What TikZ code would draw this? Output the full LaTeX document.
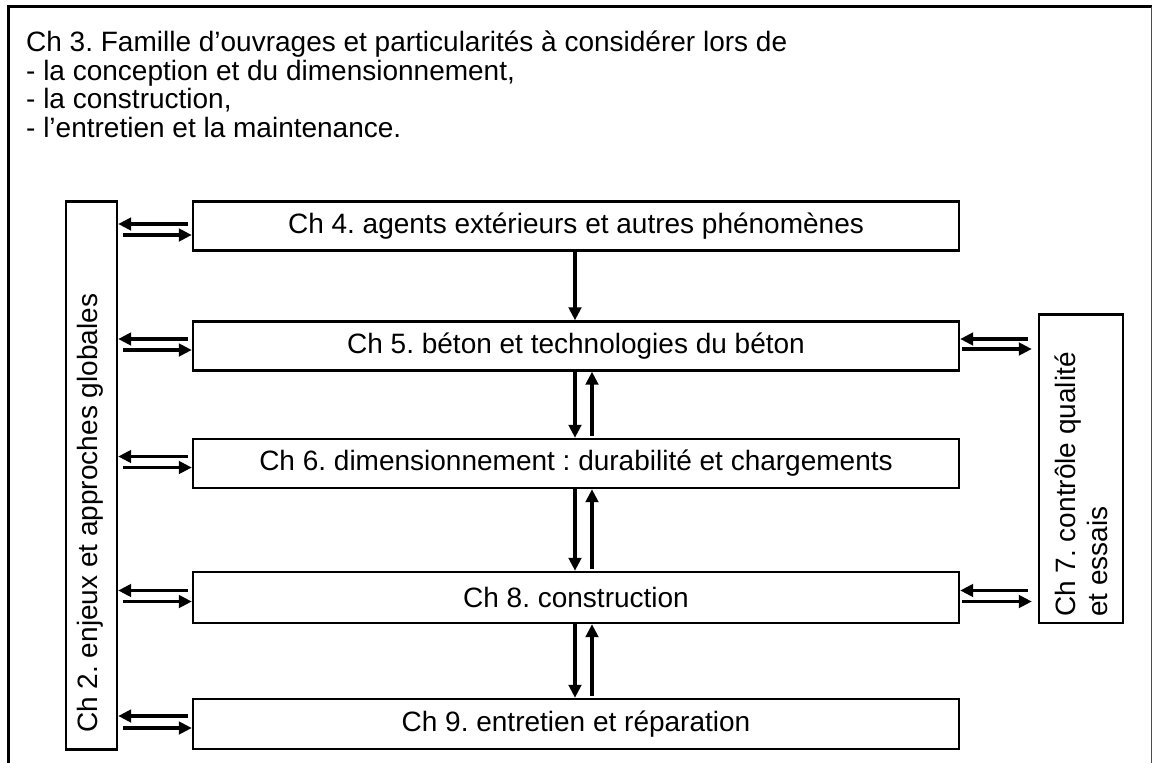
\documentclass[tikz,border=0pt]{standalone}
\usepackage{fontspec}
\setmainfont{Liberation Sans}
\usetikzlibrary{arrows.meta}
\newcommand{\chapFont}{\fontsize{28}{32.2}\selectfont\frenchspacing}
\newcommand{\titleFont}{\fontsize{28}{28.5}\selectfont\frenchspacing}

\begin{document}
\begin{tikzpicture}[x=1pt,y=-1pt]
  \tikzset{chapbox/.style={draw,line width=2.4pt,minimum width=766pt,minimum height=49pt,inner sep=0pt,font=\chapFont},
    sidebox/.style={draw,line width=2.4pt,inner sep=0pt},
    flow/.style={line width=3.2pt,-{Triangle[length=13pt,width=12.5pt]}}}
  \useasboundingbox (0,0) rectangle (1152,763);
  \draw[line width=3pt] (8.5,763) -- (8.5,6.5) -- (1152,6.5);
  \draw[line width=1pt,black!70] (1151.5,6.5) -- (1151.5,763);
  \node[anchor=north west,inner sep=0pt,align=left,font=\titleFont] (title) at (26,31)
    {Ch 3. Famille d’ouvrages et particularités à considérer lors de\\
     - la conception et du dimensionnement,\\
     - la construction,\\
     - l’entretien et la maintenance.};
  \node[sidebox,minimum width=51pt,minimum height=548pt] (ch2) at (91.5,475.5) {};
  \node[rotate=90,anchor=base west,inner sep=0pt,font=\chapFont] (ch2text) at (97,733)
    {Ch 2. enjeux et approches globales};
  \node[sidebox,minimum width=84pt,minimum height=308.5pt] (ch7) at (1081,468.8) {};
  \node[rotate=90,anchor=west,inner sep=0pt,align=left,font=\chapFont] (ch7text) at (1081,617)
    {Ch 7. contrôle qualité\\et essais};
  \node[chapbox] (ch4) at (576,226) {Ch 4. agents extérieurs et autres phénomènes};
  \node[chapbox] (ch5) at (576,346) {Ch 5. béton et technologies du béton};
  \node[chapbox] (ch6) at (576,463.5) {Ch 6. dimensionnement : durabilité et chargements};
  \node[chapbox,minimum height=51pt] (ch8) at (576,597.5) {Ch 8. construction};
  \node[chapbox,minimum height=50pt] (ch9) at (576,724) {Ch 9. entretien et réparation};
  \draw[flow,shorten <=4pt] ([yshift=2pt]ch4.west) -- ([yshift=2pt]ch4.west -| ch2.east);
  \draw[flow,shorten <=5pt] ([yshift=-9pt]ch4.west -| ch2.east) -- ([yshift=-9pt]ch4.west);
  \draw[flow,shorten <=4pt] ([yshift=7pt]ch5.west) -- ([yshift=7pt]ch5.west -| ch2.east);
  \draw[flow,shorten <=5pt] ([yshift=-4pt]ch5.west -| ch2.east) -- ([yshift=-4pt]ch5.west);
  \draw[flow,shorten <=4pt] ([yshift=7pt]ch6.west) -- ([yshift=7pt]ch6.west -| ch2.east);
  \draw[flow,shorten <=5pt] ([yshift=-4pt]ch6.west -| ch2.east) -- ([yshift=-4pt]ch6.west);
  \draw[flow,shorten <=4pt] ([yshift=7pt]ch8.west) -- ([yshift=7pt]ch8.west -| ch2.east);
  \draw[flow,shorten <=5pt] ([yshift=-4pt]ch8.west -| ch2.east) -- ([yshift=-4pt]ch8.west);
  \draw[flow,shorten <=4pt] ([yshift=8pt]ch9.west) -- ([yshift=8pt]ch9.west -| ch2.east);
  \draw[flow,shorten <=5pt] ([yshift=-4pt]ch9.west -| ch2.east) -- ([yshift=-4pt]ch9.west);
  \draw[flow,shorten <=10pt] ([yshift=7pt]ch5.east -| ch7.west) -- ([yshift=7pt]ch5.east);
  \draw[flow,shorten <=2pt,shorten >=6pt] ([yshift=-3pt]ch5.east) -- ([yshift=-3pt]ch5.east -| ch7.west);
  \draw[flow,shorten <=10pt] ([yshift=7pt]ch8.east -| ch7.west) -- ([yshift=7pt]ch8.east);
  \draw[flow,shorten <=2pt,shorten >=6pt] ([yshift=-4pt]ch8.east) -- ([yshift=-4pt]ch8.east -| ch7.west);
  \draw[flow] ([xshift=-1pt]ch4.south) -- ([xshift=-1pt]ch5.north);
  \draw[flow] ([xshift=-1pt]ch5.south) -- ([xshift=-1pt]ch6.north);
  \draw[flow,shorten <=2pt] ([xshift=16pt]ch6.north) -- ([xshift=16pt]ch5.south);
  \draw[flow] ([xshift=-1pt]ch6.south) -- ([xshift=-1pt]ch8.north);
  \draw[flow,shorten <=2pt] ([xshift=16pt]ch8.north) -- ([xshift=16pt]ch6.south);
  \draw[flow] ([xshift=-1pt]ch8.south) -- ([xshift=-1pt]ch9.north);
  \draw[flow,shorten <=2pt] ([xshift=16pt]ch9.north) -- ([xshift=16pt]ch8.south);
\end{tikzpicture}
\end{document}
